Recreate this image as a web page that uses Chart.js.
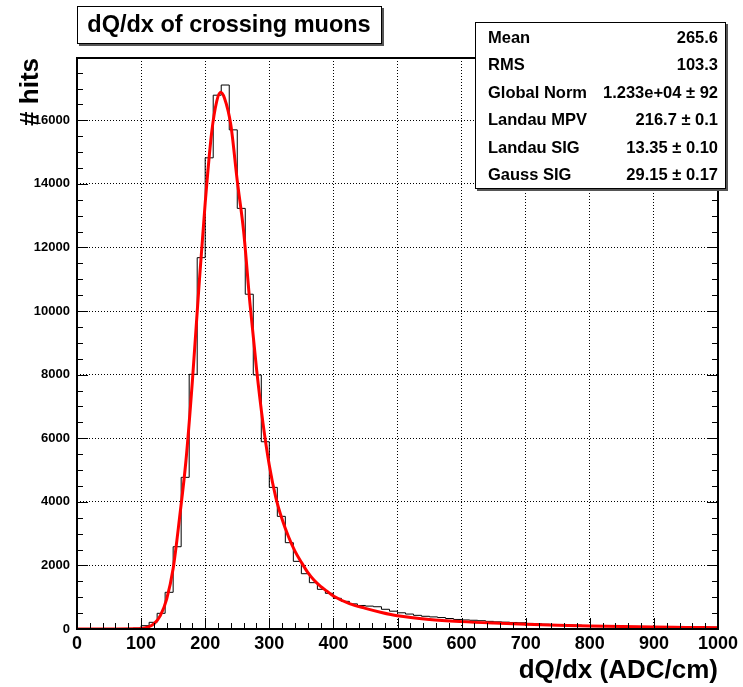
<!DOCTYPE html>
<html>
<head>
<meta charset="utf-8">
<script src="https://cdn.jsdelivr.net/npm/chart.js@4"></script>
<style>
  html, body { margin: 0; padding: 0; background: #fff; }
  canvas { display: block; }
</style>
</head>
<body>
<canvas id="chart" width="743" height="687"></canvas>
<script>
// histogram: 80 bins of 12.5 ADC/cm from 0 to 1000
const binWidth = 12.5;
const binCounts = [
    0, 0, 0, 0, 0, 0, 5, 25,
    104, 210, 493, 1154, 2588, 4770, 8010, 11680,
    14820, 16790, 17110, 15700, 13230, 10530, 7990, 5890,
    4455, 3543, 2715, 2128, 1739, 1457, 1248, 1122,
    965, 870, 790, 740, 720, 700, 620, 560,
    510, 470, 430, 400, 380, 360, 330, 300,
    285, 275, 260, 240, 225, 215, 205, 195,
    175, 165, 150, 140, 130, 125, 120, 110,
    105, 100, 95, 90, 85, 80, 78, 75,
    72, 70, 68, 65, 62, 60, 58, 55
];

// Landau (x) Gauss fit curve
const fitX = [0, 50, 90, 100, 110, 120, 130, 140, 150, 160, 170, 180, 190, 200, 210, 218, 224, 230, 240, 250,
    260, 270, 280, 290, 300, 310, 320, 330, 340, 350, 360, 370, 380, 390, 400, 425, 450, 475, 500,
    550, 600, 650, 700, 750, 800, 850, 900, 950, 1000];
const fitY = [0, 0, 5, 15, 55, 160, 420, 950, 1900, 3500, 5300, 7800, 10700, 13400, 15600, 16600, 16880, 16700, 15850, 14100,
    12500, 10200, 8200, 6500, 5150, 4150, 3450, 2900, 2450, 2100, 1780, 1530, 1340, 1190, 1040, 800, 650, 520, 415,
    300, 232, 185, 148, 118, 94, 75, 60, 50, 40];

const xTickValues = [0, 100, 200, 300, 400, 500, 600, 700, 800, 900, 1000];
const yTickValues = [0, 2000, 4000, 6000, 8000, 10000, 12000, 14000, 16000];

const titleText = 'dQ/dx of crossing muons';
const xTitle = 'dQ/dx (ADC/cm)';
const yTitle = '# hits';
const statLabels = ['Mean', 'RMS', 'Global Norm', 'Landau MPV', 'Landau SIG', 'Gauss SIG'];
const statValues = ['265.6', '103.3', '1.233e+04 \u00b1 92', '216.7 \u00b1 0.1', '13.35 \u00b1 0.10', '29.15 \u00b1 0.17'];

const FONT = '"Liberation Sans", Arial, Helvetica, sans-serif';

const histPoints = binCounts.map((c, i) => ({ x: i * binWidth, y: c }));
histPoints.push({ x: binCounts.length * binWidth, y: binCounts[binCounts.length - 1] });
const fitPoints = fitX.map((x, i) => ({ x: x, y: fitY[i] }));

// frame, inward ticks, title and stats boxes
const rootStyle = {
    id: 'rootStyle',
    afterDraw(chart) {
        const ctx = chart.ctx;
        const a = chart.chartArea;
        const xs = chart.scales.x;
        const ys = chart.scales.y;
        ctx.save();
        ctx.strokeStyle = '#000';
        ctx.lineWidth = 1;
        ctx.beginPath();
        for (let v = 0; v <= 1000; v += 20) {
            const px = Math.round(xs.getPixelForValue(v)) + 0.5;
            const len = v % 100 === 0 ? 11 : 6;
            ctx.moveTo(px, a.bottom);
            ctx.lineTo(px, a.bottom - len);
        }
        for (let v = 0; v <= ys.max; v += 500) {
            const py = Math.round(ys.getPixelForValue(v)) + 0.5;
            const len = v % 2000 === 0 ? 11 : 6;
            ctx.moveTo(a.left, py);
            ctx.lineTo(a.left + len, py);
            ctx.moveTo(a.right, py);
            ctx.lineTo(a.right - len, py);
        }
        ctx.stroke();

        ctx.lineWidth = 2;
        ctx.strokeRect(a.left, a.top, a.right - a.left, a.bottom - a.top);

        // axis titles
        ctx.fillStyle = '#000';
        ctx.font = 'bold 26px ' + FONT;
        ctx.textAlign = 'right';
        ctx.textBaseline = 'alphabetic';
        ctx.fillText(xTitle, a.right, 678);
        ctx.save();
        ctx.translate(38, a.top);
        ctx.rotate(-Math.PI / 2);
        ctx.fillText(yTitle, 0, 0);
        ctx.restore();

        // title box
        ctx.fillStyle = '#555';
        ctx.fillRect(79, 8, 305, 38);
        ctx.fillStyle = '#fff';
        ctx.fillRect(77, 6, 305, 38);
        ctx.lineWidth = 1;
        ctx.strokeRect(77.5, 6.5, 304, 37);
        ctx.fillStyle = '#000';
        ctx.font = 'bold 23.5px ' + FONT;
        ctx.textAlign = 'center';
        ctx.textBaseline = 'middle';
        ctx.fillText(titleText, 229, 26);

        // stats box
        ctx.fillStyle = '#555';
        ctx.fillRect(477, 24, 251, 167);
        ctx.fillStyle = '#fff';
        ctx.fillRect(475, 22, 251, 167);
        ctx.strokeRect(475.5, 22.5, 250, 166);
        ctx.fillStyle = '#000';
        ctx.font = 'bold 16.5px ' + FONT;
        statLabels.forEach((label, i) => {
            const y = 38 + i * 27.5;
            ctx.textAlign = 'left';
            ctx.fillText(label, 488, y);
            ctx.textAlign = 'right';
            ctx.fillText(statValues[i], 718, y);
        });
        ctx.restore();
    }
};

new Chart(document.getElementById('chart').getContext('2d'), {
    type: 'line',
    data: {
        datasets: [
            {
                data: histPoints,
                stepped: 'before',
                borderColor: '#000',
                borderWidth: 1,
                pointRadius: 0,
                fill: false,
                order: 2
            },
            {
                data: fitPoints,
                borderColor: '#ff0000',
                borderWidth: 3,
                pointRadius: 0,
                cubicInterpolationMode: 'monotone',
                fill: false,
                order: 1
            }
        ]
    },
    options: {
        responsive: false,
        animation: false,
        devicePixelRatio: 1,
        layout: { padding: { left: 0, right: 25, top: 58, bottom: 0 } },
        plugins: { legend: { display: false }, tooltip: { enabled: false } },
        scales: {
            x: {
                type: 'linear',
                min: 0,
                max: 1000,
                afterFit(scale) { scale.height = 58; },
                afterBuildTicks(scale) { scale.ticks = xTickValues.map(v => ({ value: v })); },
                ticks: {
                    color: '#000',
                    padding: 4,
                    maxRotation: 0,
                    autoSkip: false,
                    callback: v => String(v),
                    font: { family: FONT, size: 18, weight: 'bold' }
                },
                grid: { color: '#000', lineWidth: 1, drawTicks: false },
                border: { display: false, dash: [1, 2] }
            },
            y: {
                type: 'linear',
                min: 0,
                max: 17960,
                afterFit(scale) { scale.width = 77; },
                afterBuildTicks(scale) { scale.ticks = yTickValues.map(v => ({ value: v })); },
                ticks: {
                    color: '#000',
                    padding: 7,
                    autoSkip: false,
                    callback: v => String(v),
                    font: { family: FONT, size: 13, weight: 'bold' }
                },
                grid: { color: '#000', lineWidth: 1, drawTicks: false },
                border: { display: false, dash: [1, 2] }
            }
        }
    },
    plugins: [rootStyle]
});
</script>
</body>
</html>
